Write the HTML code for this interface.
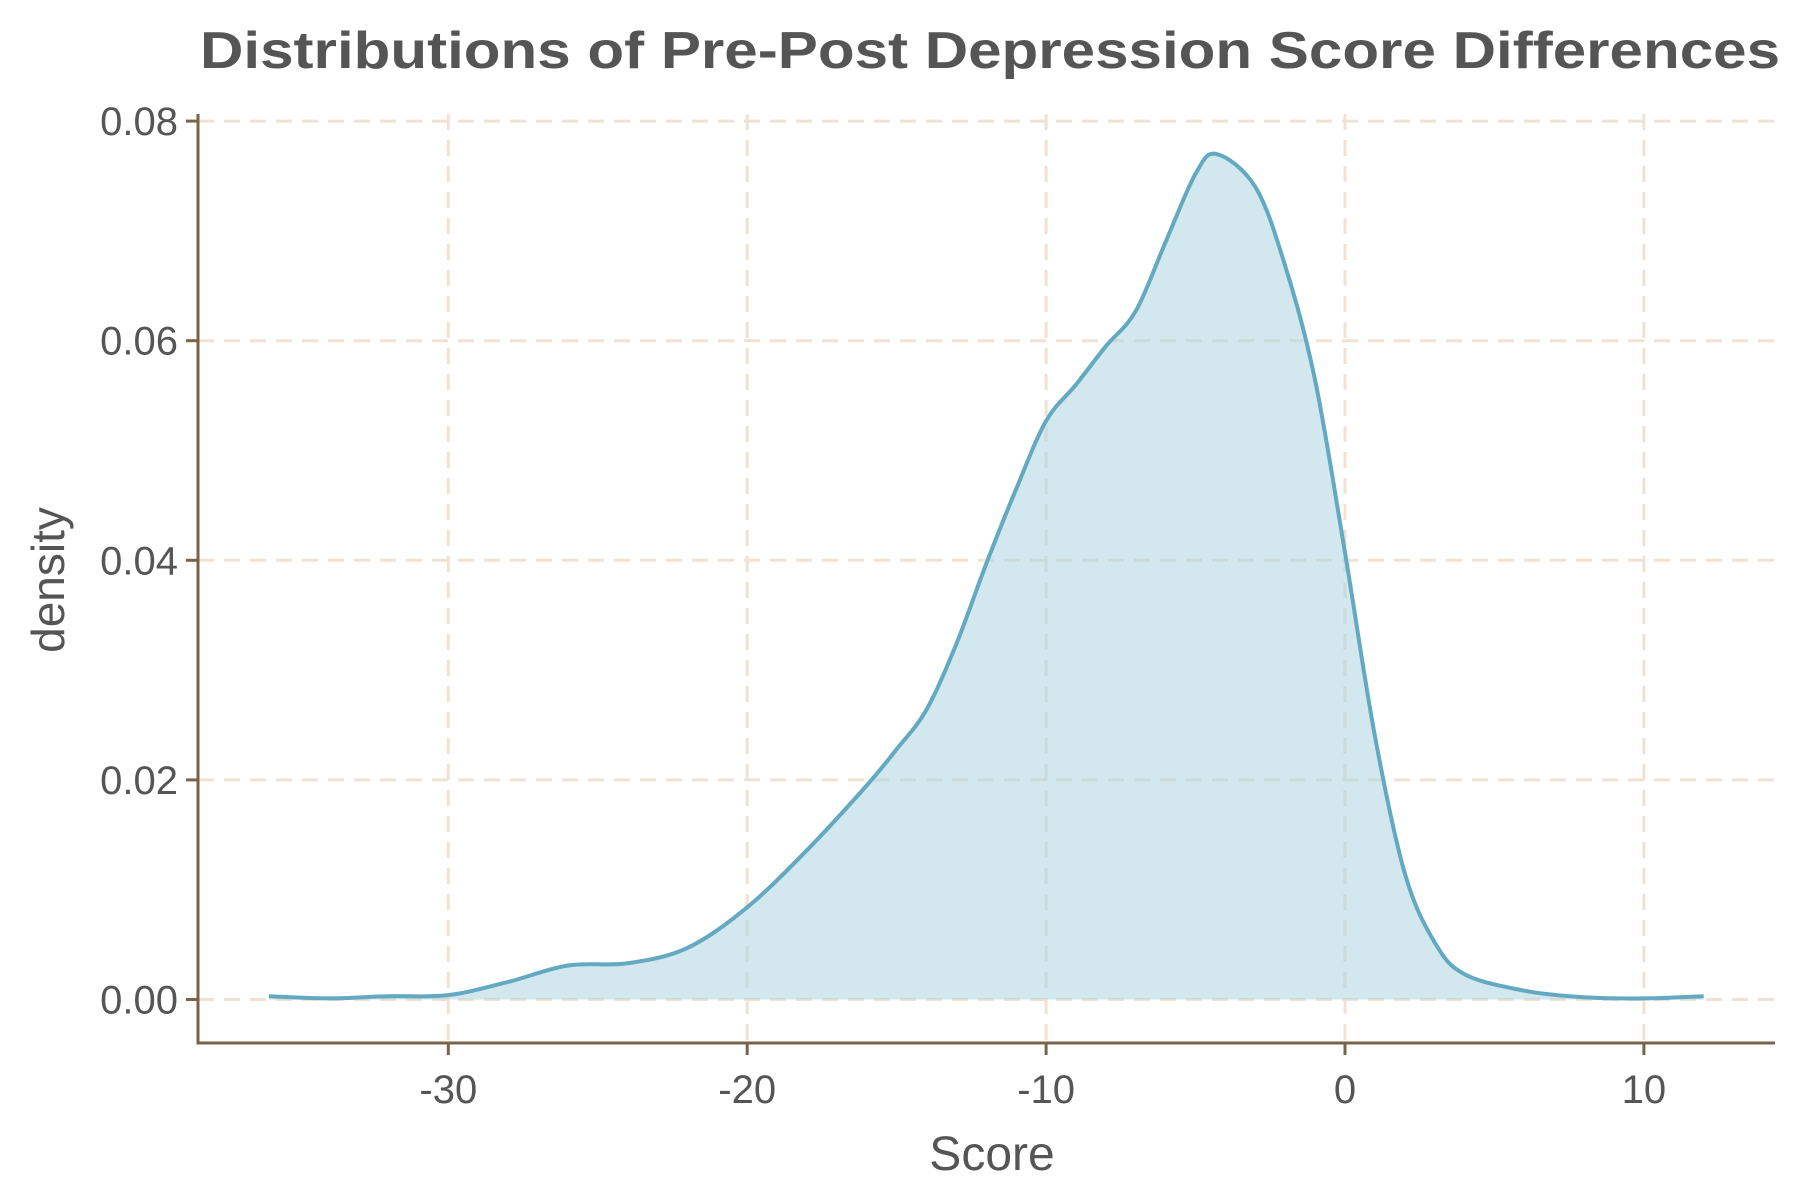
<!DOCTYPE html>
<html><head><meta charset="utf-8"><style>body{margin:0;background:#fff}svg{display:block}</style></head>
<body>
<svg id="chart" width="1800" height="1200" viewBox="0 0 1800 1200" xmlns="http://www.w3.org/2000/svg" font-family="'Liberation Sans', sans-serif">
<text x="990" y="68" text-anchor="middle" font-size="52" font-weight="bold" fill="#555" textLength="1580" lengthAdjust="spacingAndGlyphs">Distributions of Pre-Post Depression Score Differences</text>
<g id="grid"></g>
<g id="plot"></g>
<g id="axes"></g>
<text x="992" y="1170" text-anchor="middle" font-size="48" fill="#555">Score</text>
<text transform="translate(64,580) rotate(-90)" text-anchor="middle" font-size="46" fill="#555">density</text>
</svg>
<script>
const scores = [-36,-34,-32,-30,-28,-26,-24,-22,-20,-18,-16,-15,-14,-13,-12,-11,-10,-9,-8,-7,-6,-5,-4.3,-3,-2,-1,0,1,2,3,4,6,8,10,12];
const densities = [0.0003,0.0001,0.0003,0.0004,0.0016,0.0031,0.0033,0.0047,0.0084,0.0136,0.0195,0.0228,0.0264,0.0324,0.0397,0.0465,0.0527,0.056,0.0595,0.0627,0.069,0.0752,0.077,0.074,0.0668,0.0564,0.0407,0.024,0.0115,0.0052,0.0023,0.0008,0.0002,0.0001,0.0003];
const xTicks = [-30,-20,-10,0,10];
const yTicks = [0,0.02,0.04,0.06,0.08];
const yTickLabels = ["0.00","0.02","0.04","0.06","0.08"];

const NS = "http://www.w3.org/2000/svg";
const X0 = 1345, XU = 29.89, Y0 = 999.5, YU = 219.6/0.02;
const sx = v => X0 + v * XU;
const sy = v => Y0 - v * YU;
const axL = 198, axB = 1043, axR = 1775, axT = 114;
function mk(tag, attrs, parent) { const e = document.createElementNS(NS, tag); for (const k in attrs) e.setAttribute(k, attrs[k]); parent.appendChild(e); return e; }
const grid = document.getElementById('grid'), plot = document.getElementById('plot'), axes = document.getElementById('axes');

xTicks.forEach(t => {
  const l = mk('line', {x1: sx(t), x2: sx(t), y1: axT, y2: axB, stroke: '#f0e2d3', 'stroke-width': 3, 'stroke-dasharray': '16,10'}, grid);
  
  
});
yTicks.forEach(t => {
  const l = mk('line', {x1: axL, x2: axR, y1: sy(t), y2: sy(t), stroke: '#f0e2d3', 'stroke-width': 3, 'stroke-dasharray': '16,10'}, grid);
  
  
});

const pts = scores.map((s, i) => [sx(s), sy(densities[i])]);
let d = `M${pts[0][0]},${pts[0][1]}`;
for (let i = 0; i < pts.length - 1; i++) {
  const p0 = pts[i - 1] || pts[i], p1 = pts[i], p2 = pts[i + 1], p3 = pts[i + 2] || p2;
  const c1 = [p1[0] + (p2[0] - p0[0]) / 6, p1[1] + (p2[1] - p0[1]) / 6];
  const c2 = [p2[0] - (p3[0] - p1[0]) / 6, p2[1] - (p3[1] - p1[1]) / 6];
  d += ` C${c1[0]},${c1[1]} ${c2[0]},${c2[1]} ${p2[0]},${p2[1]}`;
}
const fill = mk('path', {d: d + ` L${pts[pts.length-1][0]},${sy(0)} L${pts[0][0]},${sy(0)} Z`, fill: '#add3e0', 'fill-opacity': 0.55, stroke: 'none'}, plot);


const line = mk('path', {d: d, fill: 'none', stroke: '#62a9c1', 'stroke-width': 4}, plot);



const ya = mk('line', {x1: axL, x2: axL, y1: axT, y2: axB, stroke: '#7b6348', 'stroke-width': 3}, axes);


const xa = mk('line', {x1: axL - 1.5, x2: axR, y1: axB, y2: axB, stroke: '#7b6348', 'stroke-width': 3}, axes);


xTicks.forEach(t => {
  mk('line', {x1: sx(t), x2: sx(t), y1: axB, y2: axB + 12, stroke: '#7b6348', 'stroke-width': 3}, axes);
  const tx = mk('text', {x: sx(t), y: 1103, 'text-anchor': 'middle', 'font-size': 40, fill: '#555'}, axes);
  tx.textContent = String(t);
  
  
});
yTicks.forEach((t, i) => {
  mk('line', {x1: axL - 12, x2: axL, y1: sy(t), y2: sy(t), stroke: '#7b6348', 'stroke-width': 3}, axes);
  const tx = mk('text', {x: axL - 20, y: sy(t) + 14, 'text-anchor': 'end', 'font-size': 40, fill: '#555'}, axes);
  tx.textContent = yTickLabels[i];
  
  
});
</script>
</body></html>
